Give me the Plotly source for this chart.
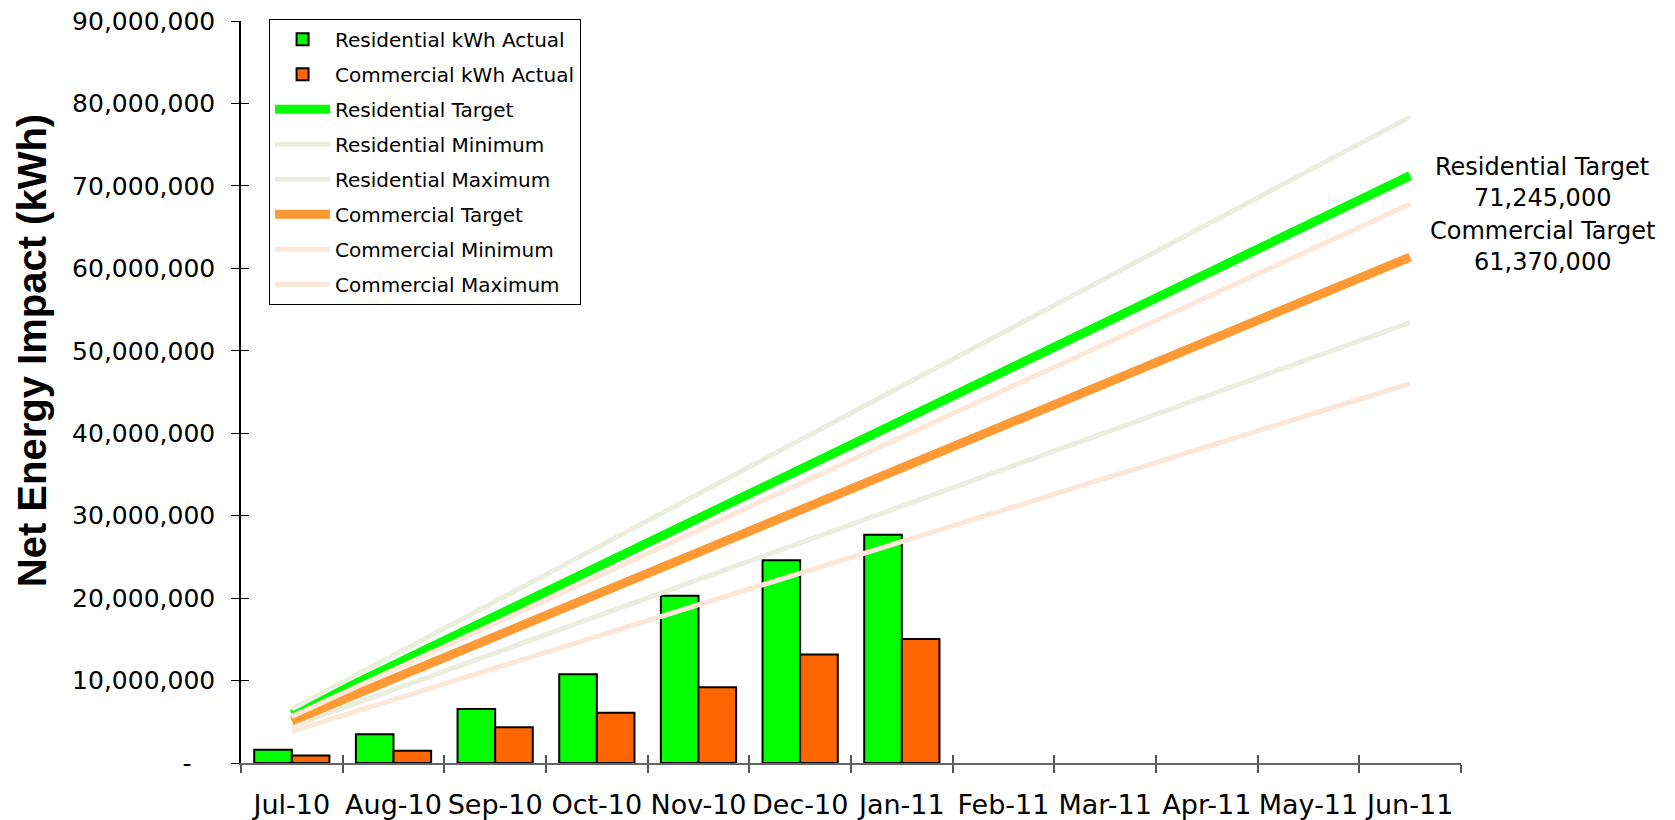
import plotly.graph_objects as go

months = ["Jul-10", "Aug-10", "Sep-10", "Oct-10", "Nov-10", "Dec-10",
          "Jan-11", "Feb-11", "Mar-11", "Apr-11", "May-11", "Jun-11"]
actual_months = months[:7]

res_actual = [1600000, 3500000, 6550000, 10750000, 20300000, 24600000, 27700000]
com_actual = [900000, 1500000, 4350000, 6100000, 9200000, 13150000, 15050000]

res_target = [5940000, 11870000, 17810000, 23750000, 29690000, 35620000,
              41560000, 47500000, 53430000, 59370000, 65310000, 71245000]
res_min = [4450000, 8910000, 13360000, 17810000, 22260000, 26720000,
           31170000, 35620000, 40080000, 44530000, 48980000, 53430000]
res_max = [6530000, 13060000, 19590000, 26120000, 32650000, 39190000,
           45720000, 52250000, 58780000, 65310000, 71840000, 78370000]
com_target = [5110000, 10230000, 15340000, 20460000, 25570000, 30690000,
              35800000, 40910000, 46030000, 51140000, 56260000, 61370000]
com_min = [3840000, 7670000, 11510000, 15340000, 19180000, 23010000,
           26850000, 30690000, 34520000, 38360000, 42190000, 46030000]
com_max = [5650000, 11300000, 16950000, 22600000, 28250000, 33900000,
           39550000, 45200000, 50850000, 56500000, 62150000, 67800000]

ytick_vals = [0, 10000000, 20000000, 30000000, 40000000, 50000000,
              60000000, 70000000, 80000000, 90000000]
ytick_text = ["-\u00a0\u00a0\u00a0"] + [f"{v:,}" for v in ytick_vals[1:]]

FONT = "DejaVu Sans, Arial, sans-serif"
TITLE_FONT = "Arial, Liberation Sans, sans-serif"
GREEN = "#00FF00"
ORANGE_BAR = "#FF6600"
ORANGE_LINE = "#FF9933"
PALE_GREEN = "#EAEFDD"
PALE_ORANGE = "#FDE7D8"

fig = go.Figure()

fig.add_trace(go.Bar(x=actual_months, y=res_actual, name="Residential kWh Actual",
                     marker=dict(color=GREEN, line=dict(color="black", width=2)),
                     legendgroup="g1"))
fig.add_trace(go.Bar(x=actual_months, y=com_actual, name="Commercial kWh Actual",
                     marker=dict(color=ORANGE_BAR, line=dict(color="black", width=2)),
                     legendgroup="g2"))

lines = [
    ("Residential Target", res_target, GREEN, 9),
    ("Residential Minimum", res_min, PALE_GREEN, 5),
    ("Residential Maximum", res_max, PALE_GREEN, 5),
    ("Commercial Target", com_target, ORANGE_LINE, 9),
    ("Commercial Minimum", com_min, PALE_ORANGE, 5),
    ("Commercial Maximum", com_max, PALE_ORANGE, 5),
]
for i, (name, vals, col, w) in enumerate(lines):
    fig.add_trace(go.Scatter(x=months, y=vals, name=name, mode="lines",
                             line=dict(color=col, width=w),
                             legendgroup=f"l{i}"))

# dummy trace for overlay axes (crossing tick marks)
fig.add_trace(go.Scatter(x=months, y=[None] * len(months), xaxis="x2", yaxis="y2",
                         showlegend=False, hoverinfo="skip", mode="lines"))

fig.update_layout(
    width=1675, height=820,
    margin=dict(l=241, r=214, t=21, b=57, autoexpand=False),
    paper_bgcolor="white", plot_bgcolor="white",
    barmode="group", bargap=0.26, bargroupgap=0,
    font=dict(family=FONT, color="black"),
    showlegend=True,
    legend=dict(x=0.023, y=1.003, xanchor="left", yanchor="top",
                bgcolor="white", bordercolor="black", borderwidth=1,
                font=dict(family=FONT, size=20, color="black"),
                traceorder="grouped", tracegroupgap=6, itemwidth=55),
    xaxis=dict(type="category", categoryorder="array", categoryarray=months,
               range=[-0.5, 11.5], tickson="boundaries", ticks="outside",
               ticklen=8, tickcolor="#555555", tickwidth=1.5,
               showline=True, linecolor="#666666", linewidth=2,
               showgrid=False, zeroline=False, tickangle=0, automargin=False,
               tickfont=dict(family=FONT, size=27, color="black"),
               ticklabelstandoff=17),
    yaxis=dict(range=[0, 90000000], tickvals=ytick_vals, ticktext=ytick_text,
               ticks="outside", ticklen=8, tickcolor="black", tickwidth=1,
               showline=True, linecolor="black", linewidth=1.5,
               showgrid=False, zeroline=False, automargin=False,
               tickfont=dict(family=FONT, size=25, color="black"),
               ticklabelstandoff=11),
    xaxis2=dict(type="category", categoryorder="array", categoryarray=months,
                range=[-0.5, 11.5], overlaying="x", anchor="y2", side="bottom",
                tickson="boundaries", ticks="inside", ticklen=8,
                tickcolor="#555555", tickwidth=1.5,
                showticklabels=False, showline=False, showgrid=False, zeroline=False),
    yaxis2=dict(range=[0, 90000000], tickvals=ytick_vals, overlaying="y",
                anchor="x2", side="left", ticks="inside", ticklen=8,
                tickcolor="black", tickwidth=1, showticklabels=False,
                showline=False, showgrid=False, zeroline=False),
)

# Y-axis title as annotation (offset upward as in reference)
fig.add_annotation(text="<b>Net Energy Impact (kWh)</b>", xref="paper", yref="paper",
                   x=-0.1713, y=0.555, textangle=-90, showarrow=False,
                   xanchor="center", yanchor="middle",
                   font=dict(family=TITLE_FONT, size=40, color="black"))

# End labels
labels = [
    ("Residential Target", 0.8032),
    (f"{res_target[-1]:,}", 0.7619),
    ("Commercial Target", 0.7170),
    (f"{com_target[-1]:,}", 0.6756),
]
for txt, yy in labels:
    fig.add_annotation(text=txt, xref="paper", yref="paper", x=1.0664, y=yy,
                       showarrow=False, xanchor="center", yanchor="middle",
                       font=dict(family=FONT, size=24, color="black"))

fig.write_html("out.html", config={"displayModeBar": False},
               post_script="document.body.style.margin='0px';")
